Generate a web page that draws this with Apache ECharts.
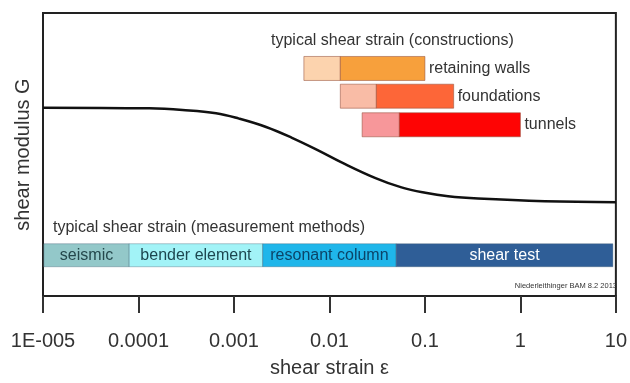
<!DOCTYPE html>
<html><head><meta charset="utf-8">
<script src="https://cdn.jsdelivr.net/npm/echarts@6/dist/echarts.min.js"></script>
<style>html,body{margin:0;padding:0;background:#fff}#c{width:630px;height:383px}</style>
</head><body><div id="c"></div>
<script>
// ---- data ----
const tickValues = [1e-5, 1e-4, 1e-3, 1e-2, 1e-1, 1, 10];
const tickLabels = ["1E-005", "0.0001", "0.001", "0.01", "0.1", "1", "10"];

const curveStrain = [1e-5, 1.3e-4, 2.9e-4, 6.5e-4, 1.13e-3, 2.17e-3, 4.05e-3, 7.7e-3, 0.0134, 0.0304, 0.0568, 0.101, 0.175, 0.36, 1.8, 10];
const curveG      = [66.56, 66.32, 65.73, 64.58, 62.67, 59.72, 55.90, 51.39, 47.22, 41.67, 38.37, 36.46, 35.24, 34.44, 33.51, 33.16];

const methodNames = ["seismic", "bender element", "resonant column", "shear test"];
const methodFrom  = [1.02e-5, 8e-5, 2e-3, 0.05];
const methodTo    = [8e-5, 2e-3, 0.05, 9.3];
const methodLevel = 14.4;

const constructionNames = ["retaining walls", "foundations", "tunnels"];
const constructionFrom  = [5.4e-3, 0.013, 0.022];
const constructionMid   = [0.013, 0.031, 0.054];
const constructionTo    = [0.1, 0.2, 1.0];
const constructionLevel = [80.4, 70.6, 60.5];

// ---- styles ----
const FONT = 'Liberation Sans, Arial, sans-serif';
const methodColors = ['#93c8c9', '#a2f3f7', '#1fb6ea', '#2f5e97'];
const methodTextColors = ['#24484c', '#1d4750', '#0b4468', '#ffffff'];
const consLight = ['#fcd3ae', '#f9bca6', '#f7979a'];
const consDark  = ['#f7a03c', '#fd6638', '#fe0404'];

const methodData = methodNames.map((n, i) => [methodFrom[i], methodTo[i], methodLevel, i]);
const consData = constructionNames.map((n, i) => [constructionFrom[i], constructionMid[i], constructionTo[i], constructionLevel[i], i]);

const chart = echarts.init(document.getElementById('c'));
chart.setOption({
  animation: false,
  grid: { left: 43, right: 11, top: 13, bottom: 82, show: true, borderColor: '#222', borderWidth: 2, backgroundColor: '#fff' },
  xAxis: {
    type: 'log', logBase: 10, min: 1e-5, max: 10,
    name: 'shear strain \u03b5', nameLocation: 'middle', nameGap: 62,
    nameTextStyle: { fontSize: 20, color: '#333', fontFamily: FONT },
    axisLine: { show: true, lineStyle: { color: '#222', width: 2 } },
    axisTick: { show: true, inside: false, length: 17, lineStyle: { color: '#333', width: 2 } },
    axisLabel: {
      margin: 35, fontSize: 20, color: '#333', fontFamily: FONT, showMinLabel: true, showMaxLabel: true,
      formatter: v => {
        const i = tickValues.findIndex(t => Math.abs(Math.log10(t) - Math.log10(v)) < 1e-6);
        return i >= 0 ? tickLabels[i] : '';
      }
    },
    splitLine: { show: false }, minorTick: { show: false }
  },
  yAxis: {
    type: 'value', min: 0, max: 100,
    name: 'shear modulus G', nameLocation: 'middle', nameGap: 10,
    nameTextStyle: { fontSize: 20, color: '#333', fontFamily: FONT },
    axisLine: { show: false }, axisTick: { show: false }, axisLabel: { show: false }, splitLine: { show: false }
  },
  graphic: [
    { type: 'text', left: 271, top: 33, style: { text: 'typical shear strain (constructions)', fontSize: 16, fill: '#333', fontFamily: FONT } },
    { type: 'text', left: 53, top: 220, style: { text: 'typical shear strain (measurement methods)', fontSize: 16, fill: '#333', fontFamily: FONT } },
    { type: 'text', right: 13, top: 282, style: { text: 'Niederleithinger BAM 8.2 2013', fontSize: 7.5, fill: '#333', fontFamily: FONT } }
  ],
  series: [
    {
      type: 'line', data: curveStrain.map((x, i) => [x, curveG[i]]),
      smooth: 0.4, showSymbol: false, lineStyle: { color: '#111', width: 2.5 }, z: 3
    },
    {
      type: 'custom', data: methodData, z: 4,
      encode: { x: [0, 1], y: 2 },
      renderItem: (params, api) => {
        const a = api.coord([api.value(0), api.value(2)]);
        const b = api.coord([api.value(1), api.value(2)]);
        const i = api.value(3);
        const h = 23;
        return {
          type: 'group', children: [
            { type: 'rect', shape: { x: a[0], y: a[1] - h / 2, width: b[0] - a[0], height: h },
              style: { fill: methodColors[i], stroke: 'rgba(60,90,110,0.35)', lineWidth: 1 } },
            { type: 'text', x: (a[0] + b[0]) / 2, y: a[1],
              style: { text: methodNames[i], fontSize: 16, fill: methodTextColors[i], fontFamily: FONT, align: 'center', verticalAlign: 'middle' } }
          ]
        };
      }
    },
    {
      type: 'custom', data: consData, z: 4,
      encode: { x: [0, 2], y: 3 },
      renderItem: (params, api) => {
        const lv = api.value(3);
        const a = api.coord([api.value(0), lv]);
        const m = api.coord([api.value(1), lv]);
        const b = api.coord([api.value(2), lv]);
        const i = api.value(4);
        const h = 24;
        return {
          type: 'group', children: [
            { type: 'rect', shape: { x: a[0], y: a[1] - h / 2, width: m[0] - a[0], height: h },
              style: { fill: consLight[i], stroke: 'rgba(150,80,60,0.55)', lineWidth: 1 } },
            { type: 'rect', shape: { x: m[0], y: a[1] - h / 2, width: b[0] - m[0], height: h },
              style: { fill: consDark[i], stroke: 'rgba(150,80,60,0.55)', lineWidth: 1 } },
            { type: 'text', x: b[0] + 4, y: a[1],
              style: { text: constructionNames[i], fontSize: 16, fill: '#333', fontFamily: FONT, align: 'left', verticalAlign: 'middle' } }
          ]
        };
      }
    }
  ]
});
</script></body></html>
